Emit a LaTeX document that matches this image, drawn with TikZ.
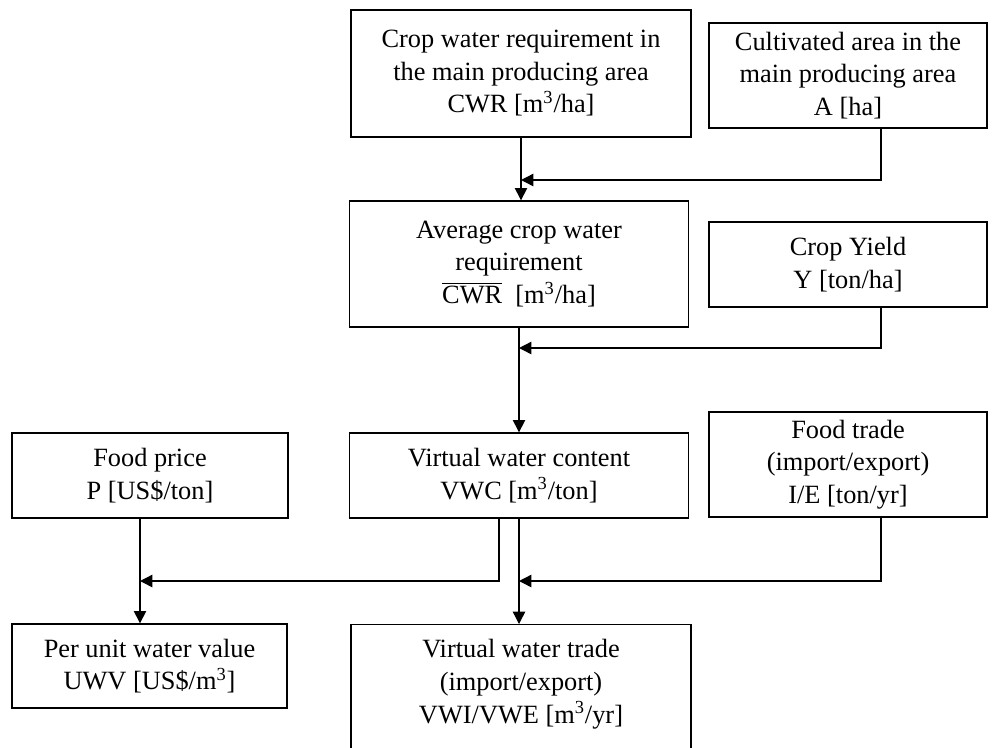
\documentclass[tikz,border=0pt]{standalone}
\usepackage{fontspec}
\setmainfont{Liberation Serif}
\usetikzlibrary{arrows.meta}
\begin{document}
\begin{tikzpicture}[x=0.02cm,y=-0.02cm,
  box/.style={draw, line width=0.8pt, align=center, inner sep=0pt,
    font=\fontsize{15}{18.5}\selectfont},
  arr/.style={line width=0.8pt, -{Triangle[length=7pt,width=7pt]}},
  ln/.style={line width=0.8pt}]
\useasboundingbox (0,0) rectangle (996,747);
\node[box, minimum width=6.8cm, minimum height=2.54cm] (cwr) at (521,73.5)
  {Crop water requirement in\\the main producing area\\CWR [m\textsuperscript{3}/ha]};
\node[box, minimum width=5.56cm, minimum height=2.1cm] (area) at (848,75.5)
  {Cultivated area in the\\main producing area\\A [ha]};
\node[box, minimum width=6.78cm, minimum height=2.52cm] (avg) at (519,264)
  {Average crop water\\requirement\\$\overline{\hbox{CWR}}$\ \ [m\textsuperscript{3}/ha]};
\node[box, minimum width=5.56cm, minimum height=1.7cm] (yield) at (848,264.5)
  {Crop Yield\\Y [ton/ha]};
\node[box, minimum width=5.52cm, minimum height=1.7cm] (price) at (150,475.5)
  {Food price\\P [US\$/ton]};
\node[box, minimum width=6.78cm, minimum height=1.7cm] (vwc) at (519,475.5)
  {Virtual water content\\VWC [m\textsuperscript{3}/ton]};
\node[box, minimum width=5.56cm, minimum height=2.1cm] (trade) at (848,464.5)
  {Food trade\\(import/export)\\I/E [ton/yr]};
\node[box, minimum width=5.5cm, minimum height=1.68cm] (uwv) at (149.5,666)
  {Per unit water value\\UWV [US\$/m\textsuperscript{3}]};
\node[box, minimum width=6.8cm, anchor=north, inner ysep=0.3cm] (vwt) at (521,624)
  {Virtual water trade\\(import/export)\\VWI/VWE [m\textsuperscript{3}/yr]\rule[-60pt]{0pt}{1pt}};
\coordinate (j1) at (521,180);
\coordinate (j2) at (519,348);
\coordinate (j3) at (140,581);
\coordinate (j4) at (519,581);
\draw[arr] (cwr.south) -- (cwr.south |- avg.north);
\draw[arr] ([xshift=0.66cm]area.south) |- (j1);
\draw[arr] (avg.south) -- (avg.south |- vwc.north);
\draw[arr] ([xshift=0.66cm]yield.south) |- (j2);
\draw[arr] (vwc.south) -- (vwc.south |- vwt.north);
\draw[arr] ([xshift=-0.4cm]vwc.south) |- (j3);
\draw[arr] ([xshift=-0.2cm]price.south) -- ([xshift=-0.2cm]price.south |- uwv.north);
\draw[arr] ([xshift=0.66cm]trade.south) |- (j4);
\end{tikzpicture}
\end{document}
